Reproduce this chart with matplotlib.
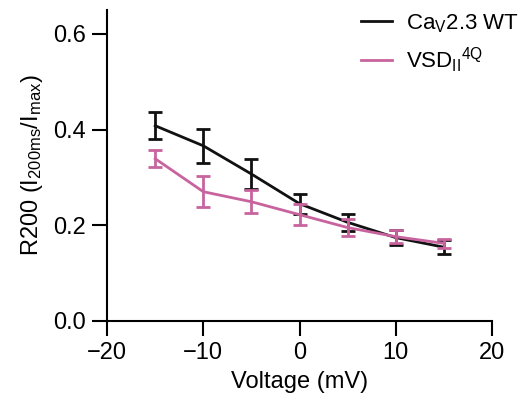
import matplotlib
matplotlib.use("Agg")
import matplotlib.pyplot as plt
import numpy as np

plt.rcParams["font.family"] = ["Liberation Sans", "DejaVu Sans"]
plt.rcParams["mathtext.fontset"] = "custom"
plt.rcParams["mathtext.rm"] = "Liberation Sans"
plt.rcParams["mathtext.default"] = "regular"

voltage = [-15, -10, -5, 0, 5, 10, 15]
wt_mean = [0.408, 0.366, 0.307, 0.245, 0.206, 0.174, 0.154]
wt_err = [0.028, 0.036, 0.031, 0.021, 0.018, 0.016, 0.015]
vsd_mean = [0.339, 0.270, 0.249, 0.222, 0.195, 0.176, 0.162]
vsd_err = [0.018, 0.032, 0.024, 0.022, 0.017, 0.013, 0.009]

black = "#111111"
pink = "#C8639E"

fig = plt.figure(figsize=(5.25, 4.01), dpi=100)
ax = fig.add_axes([0.204, 0.2, 0.733, 0.775])

ax.errorbar(voltage, wt_mean, yerr=wt_err, color=black, lw=2, capsize=5,
            capthick=2, elinewidth=2, label="Ca$_{V}$2.3 WT", zorder=3)
ax.errorbar(voltage, vsd_mean, yerr=vsd_err, color=pink, lw=2, capsize=5,
            capthick=2, elinewidth=2, label="VSD$_{II}$$^{4Q}$", zorder=4)

ax.set_xlim(-20, 20)
ax.set_ylim(0, 0.65)
ax.set_xticks([-20, -10, 0, 10, 20])
ax.set_xticklabels(["\u221220", "\u221210", "0", "10", "20"])
ax.set_yticks([0, 0.2, 0.4, 0.6])
ax.set_yticklabels(["0.0", "0.2", "0.4", "0.6"])
ax.spines["top"].set_visible(False)
ax.spines["right"].set_visible(False)
for s in ["left", "bottom"]:
    ax.spines[s].set_linewidth(1.5)
ax.tick_params(axis="both", labelsize=17, length=11, width=1.5, pad=4)

ax.set_xlabel("Voltage (mV)", fontsize=17, labelpad=5)
ax.set_ylabel("R200 (I$_{200ms}$/I$_{max}$)", fontsize=17, labelpad=6)

handles, labels = ax.get_legend_handles_labels()
handles = [h[0] for h in handles]
leg = fig.legend(handles, labels, loc="upper left", bbox_to_anchor=(0.65, 1.02),
                 frameon=False, fontsize=16, handlelength=1.4, handletextpad=0.6,
                 labelspacing=0.5)

fig.savefig("out.png", dpi=100)
